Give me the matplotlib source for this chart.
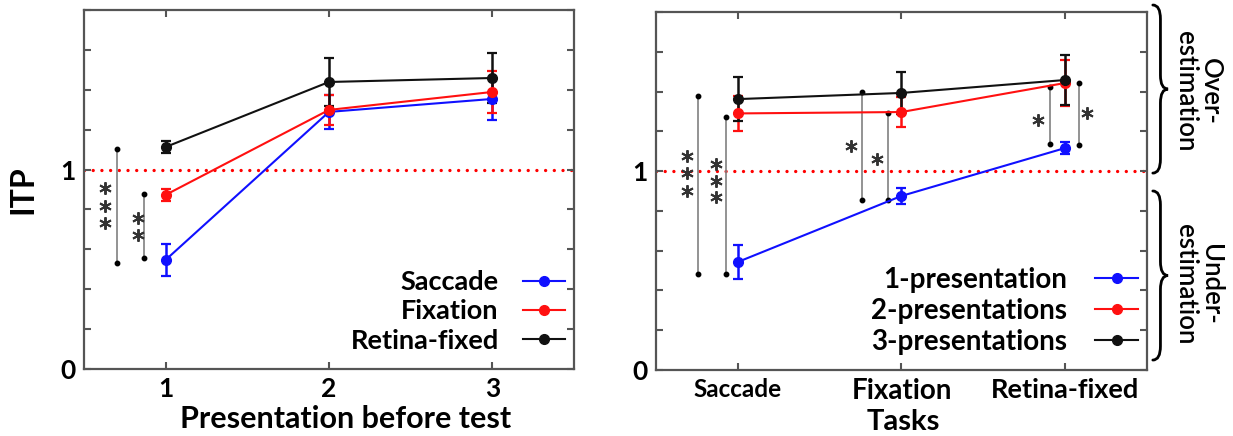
import numpy as np
import matplotlib
matplotlib.use("Agg")
import matplotlib.pyplot as plt
from matplotlib.path import Path
from matplotlib.patches import PathPatch
from matplotlib.transforms import blended_transform_factory

plt.rcParams['font.family'] = ['Lato', 'DejaVu Sans']
plt.rcParams['font.weight'] = 'bold'

# left panel: ITP vs presentation number
presentations = [1, 2, 3]
saccade = [0.547, 1.289, 1.354]
saccade_err = [0.08, 0.085, 0.105]
fixation = [0.873, 1.299, 1.389]
fixation_err = [0.03, 0.077, 0.105]
retina = [1.113, 1.439, 1.459]
retina_err = [0.03, 0.12, 0.126]

# right panel: ITP vs task
tasks = ['Saccade', 'Fixation', 'Retina-fixed']
pres1 = [0.543, 0.875, 1.116]
pres1_err = [0.083, 0.04, 0.03]
pres2 = [1.29, 1.297, 1.443]
pres2_err = [0.09, 0.075, 0.116]
pres3 = [1.362, 1.393, 1.458]
pres3_err = [0.11, 0.105, 0.126]

# significance brackets (x, low, high) and star centres
left_sig_x = [0.70, 0.865]
left_sig_lo = [0.532, 0.557]
left_sig_hi = [1.103, 0.878]
left_star_x = [0.627, 0.627, 0.627, 0.83, 0.83]
left_star_y = [0.908, 0.818, 0.73, 0.757, 0.672]

right_sig_x = [0.758, 0.927, 1.758, 1.915, 2.908, 3.086]
right_sig_lo = [0.483, 0.483, 0.855, 0.855, 1.136, 1.131]
right_sig_hi = [1.378, 1.272, 1.398, 1.292, 1.423, 1.443]
right_star_x = [0.69, 0.69, 0.69, 0.867, 0.867, 0.867, 1.69, 1.85, 2.834, 3.135]
right_star_y = [1.076, 0.99, 0.90, 1.036, 0.95, 0.87, 1.126, 1.06, 1.257, 1.292]

yticks = np.round(np.arange(0, 1.81, 0.2), 1)
ytick_labels = ['0' if t == 0 else '1' if t == 1 else '' for t in yticks]

BLUE = '#1010ff'
RED = '#ff1010'
BLACK = '#111111'
SPINE = '#555555'

fig = plt.figure(figsize=(12.33, 4.36), dpi=100)
ax1 = fig.add_axes([0.0681, 0.1537, 0.3974, 0.8234])
ax2 = fig.add_axes([0.532, 0.1514, 0.3982, 0.8211])


def style_axes(ax):
    ax.set_xlim(0.5, 3.5)
    ax.set_ylim(0, 1.8)
    ax.set_yticks(yticks)
    ax.set_yticklabels(ytick_labels)
    ax.tick_params(direction='in', length=5, width=1.5, color=SPINE,
                   top=True, right=True, labelsize=19, pad=6)
    for s in ax.spines.values():
        s.set_color(SPINE)
        s.set_linewidth(1.6)
    ax.axhline(1, color='red', lw=2.4, ls=(0, (0.01, 2.6)),
               dash_capstyle='round', zorder=1)


def draw_series(ax, x, ys, errs, colors, labels):
    handles = []
    for y, e, c, lab in zip(ys, errs, colors, labels):
        ax.errorbar(x, y, yerr=e, fmt='none', ecolor=c, elinewidth=1.8,
                    capsize=3.5, capthick=1.6, zorder=3)
        h, = ax.plot(x, y, color=c, lw=1.5, marker='o', ms=7, zorder=4,
                     label=lab)
        handles.append(h)
    return handles


def draw_sig(ax, xs, los, his, sx, sy):
    for x, lo, hi in zip(xs, los, his):
        ax.plot([x, x], [lo, hi], color='0.5', lw=1.2, marker='o', ms=3.2,
                mfc='k', mec='k', zorder=2)
    ax.plot(sx, sy, ls='none', marker=(6, 2, 0), ms=9, mew=1.4,
            color='#333333', zorder=2)


def brace(ax, y0, y1, x0=1.012, w=0.031, r=0.07):
    ym = (y0 + y1) / 2
    xm = x0 + w / 2
    verts = [(x0, y1), (xm, y1), (xm, y1 - r),
             (xm, ym + r), (xm, ym), (x0 + w, ym),
             (xm, ym), (xm, ym - r),
             (xm, y0 + r), (xm, y0), (x0, y0)]
    codes = [Path.MOVETO, Path.CURVE3, Path.CURVE3,
             Path.LINETO, Path.CURVE3, Path.CURVE3,
             Path.CURVE3, Path.CURVE3,
             Path.LINETO, Path.CURVE3, Path.CURVE3]
    tr = blended_transform_factory(ax.transAxes, ax.transData)
    patch = PathPatch(Path(verts, codes), transform=tr, fill=False,
                      lw=2.0, color='black', clip_on=False,
                      capstyle='round')
    ax.add_patch(patch)


# left panel
style_axes(ax1)
ax1.set_xticks(presentations)
h1 = draw_series(ax1, presentations, [saccade, fixation, retina],
                 [saccade_err, fixation_err, retina_err],
                 [BLUE, RED, BLACK], ['Saccade', 'Fixation', 'Retina-fixed'])
draw_sig(ax1, left_sig_x, left_sig_lo, left_sig_hi, left_star_x, left_star_y)
ax1.set_ylabel('ITP', fontsize=23, fontweight='bold')
ax1.yaxis.set_label_coords(-0.096, 0.5)
ax1.set_xlabel('Presentation before test', fontsize=22, fontweight='bold')
ax1.xaxis.set_label_coords(0.533, -0.1)
ax1.legend(handles=h1, loc='lower right', bbox_to_anchor=(0.982, 0.045),
           markerfirst=False, frameon=False, fontsize=19.5, handlelength=1.55,
           handletextpad=0.9, labelspacing=0.2, borderpad=0, borderaxespad=0)

# right panel
style_axes(ax2)
ax2.set_xticks([1, 2, 3])
ax2.set_xticklabels(tasks)
tick_sizes = [17.5, 20, 19.5]
for lab, size in zip(ax2.get_xticklabels(), tick_sizes):
    lab.set_fontsize(size)
h2 = draw_series(ax2, [1, 2, 3], [pres1, pres2, pres3],
                 [pres1_err, pres2_err, pres3_err],
                 [BLUE, RED, BLACK],
                 ['1-presentation', '2-presentations', '3-presentations'])
draw_sig(ax2, right_sig_x, right_sig_lo, right_sig_hi,
         right_star_x, right_star_y)
ax2.set_xlabel('Tasks', fontsize=21, fontweight='bold')
ax2.xaxis.set_label_coords(0.503, -0.108)
ax2.legend(handles=h2, loc='lower right', bbox_to_anchor=(0.982, 0.043),
           markerfirst=False, frameon=False, fontsize=20, handlelength=1.55,
           handletextpad=1.0, labelspacing=0.18, borderpad=0, borderaxespad=0)

brace(ax2, 0.99, 1.835)
brace(ax2, 0.05, 0.90)
tr = blended_transform_factory(ax2.transAxes, ax2.transData)
ax2.text(1.104, 1.403, 'Over-\nestimation', transform=tr, rotation=-90,
         ha='center', va='center', multialignment='center', fontsize=18.5,
         fontweight='semibold', linespacing=1.0, clip_on=False)
ax2.text(1.104, 0.43, 'Under-\nestimation', transform=tr, rotation=-90,
         ha='center', va='center', multialignment='center', fontsize=18.5,
         fontweight='semibold', linespacing=1.0, clip_on=False)

fig.savefig('out.png', dpi=100)
